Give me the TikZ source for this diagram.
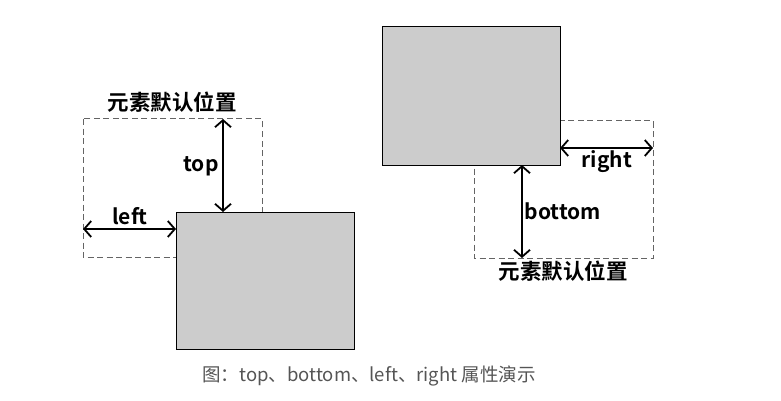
\documentclass[tikz,border=0pt]{standalone}
\usepackage{fontspec}
\setmainfont{Noto Sans CJK SC}[BoldFont={* Bold}]
\usetikzlibrary{arrows.meta}
\begin{document}
\begin{tikzpicture}[x=1pt,y=-1pt,
  elem/.style={draw=black,line width=1pt,fill={rgb,255:red,204;green,204;blue,204}},
  dbox/.style={draw={rgb,255:red,100;green,100;blue,100},line width=1pt,dash pattern=on 6pt off 3.5pt},
  darrow/.style={line width=2pt,{Straight Barb[length=7pt,width=16pt,line width=1.8pt]}-{Straight Barb[length=7pt,width=16pt,line width=1.8pt]}},
  lab/.style={font=\fontsize{21}{23}\selectfont\bfseries,inner sep=0pt},
  tit/.style={font=\fontsize{21.5}{23}\selectfont\bfseries,inner sep=0pt}]
\useasboundingbox (0,0) rectangle (781,401);
% left
\draw[dbox] (83,119) rectangle (262,257);
\path[elem] (176,212) rectangle (354,349);
\coordinate (lt1) at (223,119);
\coordinate (lt2) at (223,212);
\coordinate (ll1) at (83,229);
\coordinate (ll2) at (176,229);
\draw[darrow] (lt1) -- (lt2);
\draw[darrow] (ll1) -- (ll2);
\node[lab] (ltop) at (201,166) {top};
\node[lab] (lleft) at (130,216) {left};
\node[tit] (ltitle) at (172,102) {元素默认位置};
% right
\draw[dbox] (474,121) rectangle (653,258);
\path[elem] (382,27) rectangle (560,165);
\coordinate (rr1) at (560,148);
\coordinate (rr2) at (653,148);
\coordinate (rb1) at (522,165);
\coordinate (rb2) at (522,258);
\draw[darrow] (rr1) -- (rr2);
\draw[darrow] (rb1) -- (rb2);
\node[lab] (rright) at (607,162) {right};
\node[lab] (rbottom) at (563,211) {bottom};
\node[tit] (rtitle) at (563,271) {元素默认位置};
% caption
\node[font=\fontsize{18.5}{20}\selectfont,text={rgb,255:red,85;green,85;blue,85},inner sep=0pt] (cap) at (369,376) {图：top、bottom、left、right 属性演示};
\end{tikzpicture}
\end{document}
